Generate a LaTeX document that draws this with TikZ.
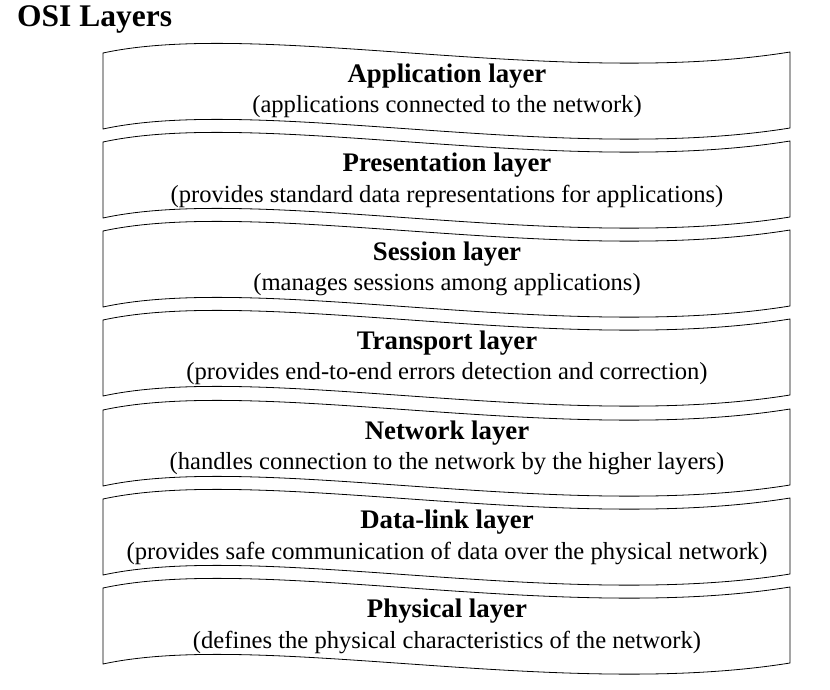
\documentclass[tikz,border=0pt]{standalone}
\usepackage{fontspec}
\setmainfont{Liberation Serif}
\begin{document}
\begin{tikzpicture}[x=1pt,y=-1pt,
 ttl/.style={font=\fontsize{26.8}{30}\selectfont\bfseries},
 sub/.style={font=\fontsize{24.6}{28}\selectfont}]
\useasboundingbox (0,0) rectangle (830,690);
\node[anchor=west,font=\fontsize{31.5}{34}\selectfont\bfseries,inner sep=0pt] (title) at (17,19) {OSI Layers};
\foreach \y/\a/\b [count=\i] in {
 53/Application layer/(applications connected to the network),
 142/Presentation layer/(provides standard data representations for applications),
 231/Session layer/(manages sessions among applications),
 320/Transport layer/(provides end-to-end errors detection and correction),
 410/Network layer/(handles connection to the network by the higher layers),
 499/Data-link layer/(provides safe communication of data over the physical network),
 588/Physical layer/(defines the physical characteristics of the network)}{
 \draw[line width=0.8pt] (103,\y) .. controls (260,\y-34) and (560,\y+36) .. (790,\y-1)
   -- (790,\y+75) .. controls (560,\y+112) and (260,\y+42) .. (103,\y+76) -- cycle;
 \node[ttl] (t\i) at (447,\y+23) {\a};
 \node[sub] (s\i) at (447,\y+54) {\b};
}
\end{tikzpicture}
\end{document}
